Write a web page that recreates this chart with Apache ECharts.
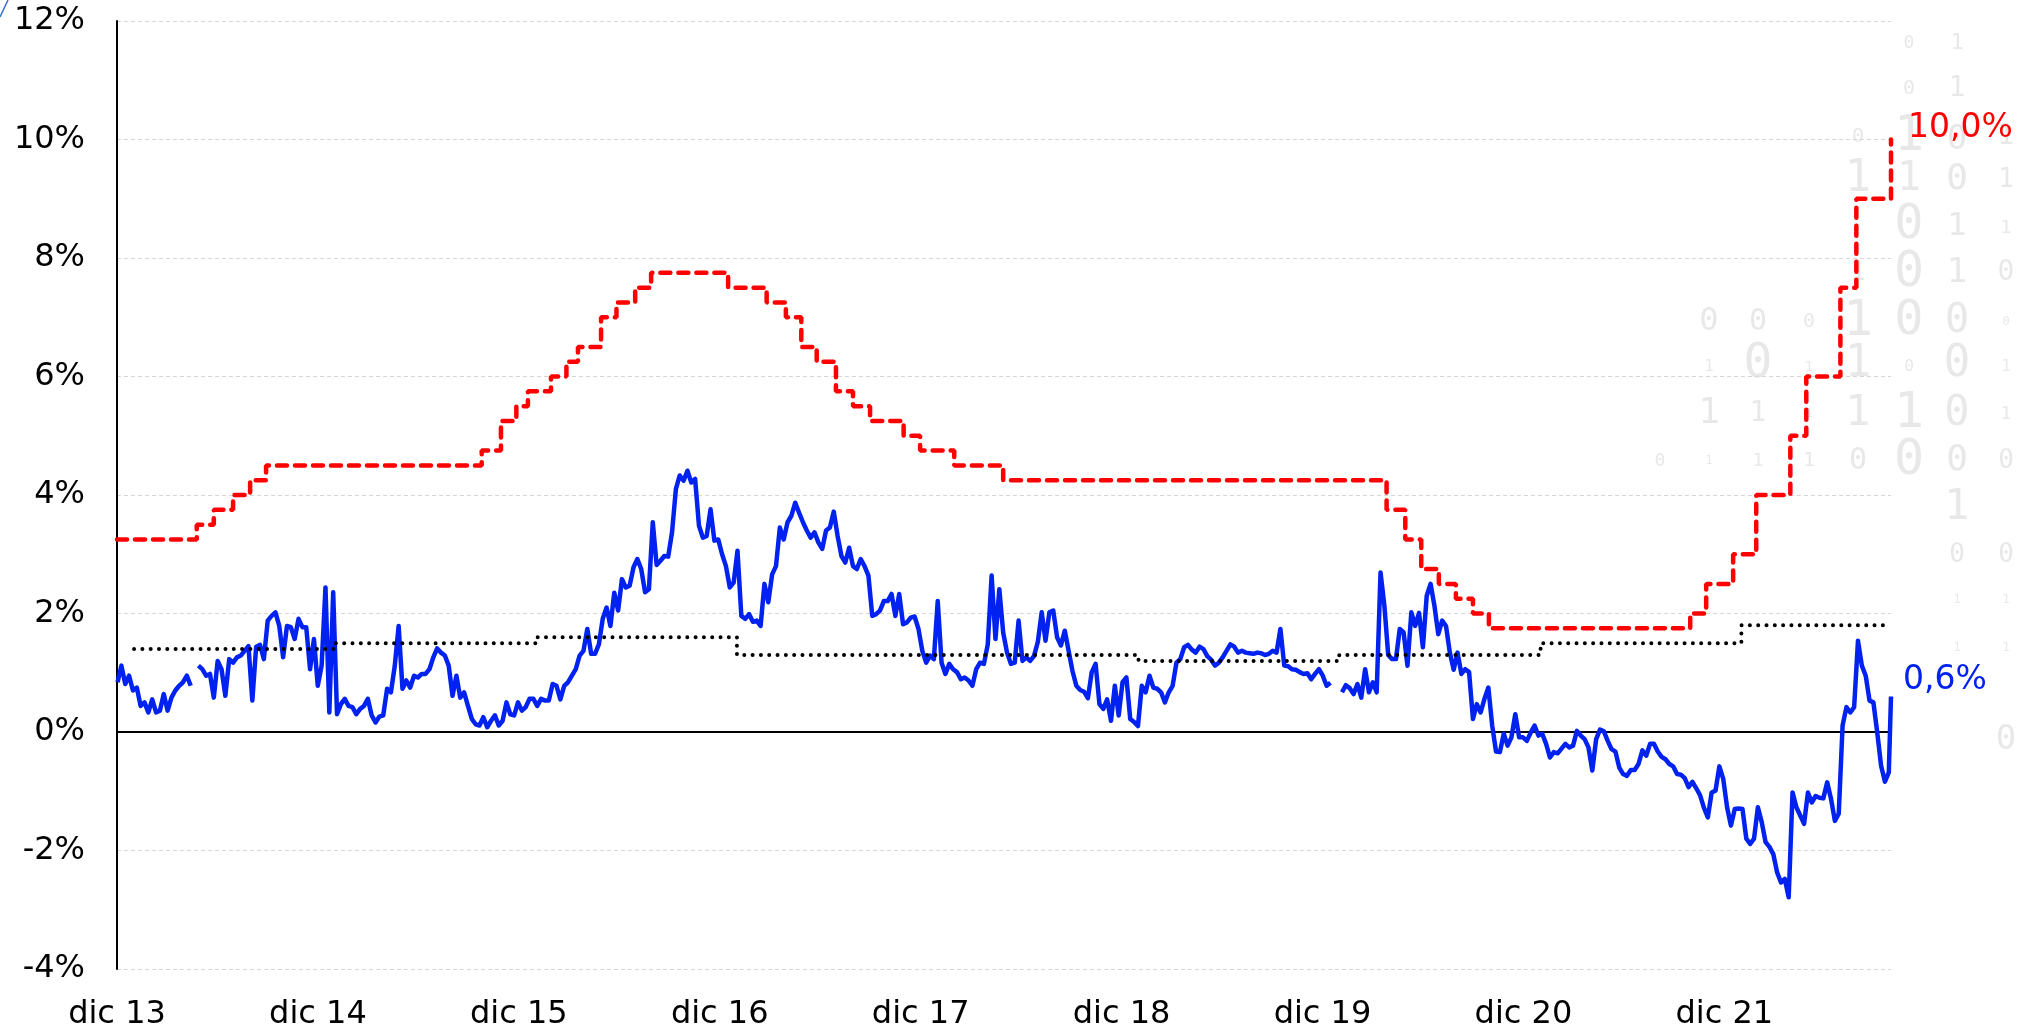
<!DOCTYPE html>
<html>
<head>
<meta charset="utf-8">
<script src="https://cdn.jsdelivr.net/npm/echarts@6/dist/echarts.min.js"></script>
<style>
  html, body { margin: 0; padding: 0; background: #ffffff; }
  #chart { width: 2042px; height: 1031px; }
</style>
</head>
<body>
<div id="chart"></div>
<script>
// X axis: months counted from 1 Dec 2013, one labelled tick per December
const xTickLabels = ['dic 13', 'dic 14', 'dic 15', 'dic 16', 'dic 17', 'dic 18', 'dic 19', 'dic 20', 'dic 21'];

// Policy rate (%), value in force from each date on
const policyDates = [
  '2013-12-01', '2014-04-25', '2014-05-26', '2014-06-30', '2014-07-31', '2014-08-29',
  '2015-09-25', '2015-10-30', '2015-11-27', '2015-12-18',
  '2016-01-29', '2016-02-26', '2016-03-18', '2016-04-29', '2016-05-27', '2016-06-30', '2016-07-29', '2016-12-16',
  '2017-02-24', '2017-03-31', '2017-04-28', '2017-05-26', '2017-06-30', '2017-07-31', '2017-08-31', '2017-10-31', '2017-11-30',
  '2018-01-31', '2018-04-30',
  '2020-03-27', '2020-04-30', '2020-05-29', '2020-06-30', '2020-07-31', '2020-08-31', '2020-09-29',
  '2021-09-30', '2021-10-29', '2021-12-17',
  '2022-01-28', '2022-03-31', '2022-04-29', '2022-06-30', '2022-07-29', '2022-09-30'
];
const policyRates = [
  3.25, 3.50, 3.75, 4.00, 4.25, 4.50,
  4.75, 5.25, 5.50, 5.75,
  6.00, 6.25, 6.50, 7.00, 7.25, 7.50, 7.75, 7.50,
  7.25, 7.00, 6.50, 6.25, 5.75, 5.50, 5.25, 5.00, 4.75,
  4.50, 4.25,
  3.75, 3.25, 2.75, 2.50, 2.25, 2.00, 1.75,
  2.00, 2.50, 3.00,
  4.00, 5.00, 6.00, 7.50, 9.00, 10.00
];

// Neutral real rate (%), one level per calendar year
const neutralDates = ['2014-01-01', '2015-01-01', '2016-01-01', '2017-01-01', '2018-01-01',
                      '2019-01-01', '2020-01-01', '2021-01-01', '2022-01-01', '2022-09-30'];
const neutralRates = [1.4, 1.5, 1.6, 1.3, 1.3, 1.2, 1.3, 1.5, 1.8, 1.8];

// Ex-ante real rate (%), weekly from the first Monday of December 2013; null = no quote
const realRateStart = '2013-12-02';
const realRateWeekly = [
  0.84, 1.12, 0.81, 0.95, 0.70, 0.75, 0.44, 0.50, 0.33, 0.55, 0.33, 0.36, 0.64, 0.36, 0.58, 0.70, 0.78, 0.84, 0.95, 0.78,
  null, 1.12, 1.06, 0.95, 0.98, 0.58, 1.20, 1.06, 0.61, 1.23, 1.17, 1.26, 1.29, 1.37, 1.45, 0.53, 1.44, 1.47, 1.23, 1.88, 1.96,
  2.02, 1.79, 1.26, 1.79, 1.77, 1.57, 1.91, 1.77, 1.77, 1.06, 1.57, 0.78, 1.12, 2.44, 0.33, 2.36, 0.30, 0.47, 0.56, 0.44,
  0.42, 0.30, 0.39, 0.44, 0.56, 0.28, 0.16, 0.26, 0.28, 0.73, 0.67, 1.12, 1.79, 0.73, 0.87, 0.75, 0.95, 0.92, 0.98, 0.98,
  1.06, 1.26, 1.41, 1.34, 1.29, 1.12, 0.61, 0.95, 0.58, 0.67, 0.44, 0.22, 0.13, 0.11, 0.25, 0.08, 0.19, 0.28, 0.11, 0.19,
  0.50, 0.30, 0.28, 0.50, 0.36, 0.42, 0.56, 0.56, 0.44, 0.56, 0.53, 0.53, 0.81, 0.78, 0.55, 0.78, 0.84,
  0.95, 1.06, 1.29, 1.37, 1.74, 1.32, 1.32, 1.48, 1.91, 2.10, 1.79, 2.35, 2.05, 2.58, 2.44, 2.47, 2.78, 2.92, 2.75, 2.36, 2.41, 3.54, 2.82,
  2.89, 2.97, 2.96, 3.37, 4.10, 4.33, 4.24, 4.41, 4.21, 4.27, 3.48, 3.28, 3.31, 3.76, 3.23, 3.25, 3.00, 2.80, 2.44, 2.52,
  3.06, 1.96, 1.91, 1.99, 1.86, 1.88, 1.79, 2.50, 2.19, 2.66, 2.80, 3.45, 3.25, 3.54, 3.65, 3.87, 3.70, 3.54, 3.40, 3.28,
  3.37, 3.20, 3.09, 3.40, 3.45, 3.72, 3.31, 2.97, 2.86, 3.11, 2.80, 2.75, 2.92, 2.80, 2.64, 1.96, 1.99, 2.05, 2.21, 2.21,
  2.33, 1.96, 2.33, 1.82, 1.85, 1.93, 1.95, 1.74, 1.37, 1.17, 1.29, 1.23, 2.21, 1.17, 0.98, 1.15, 1.06, 1.01, 0.89, 0.92,
  0.87, 0.78, 1.06, 1.17, 1.15, 1.48, 2.64, 1.57, 2.41, 1.68, 1.34,
  1.15, 1.17, 1.88, 1.20, 1.26, 1.20, 1.28, 1.52, 2.02, 1.54, 2.02, 2.05, 1.60, 1.46, 1.71, 1.37, 1.03, 0.78, 0.71,
  0.68, 0.57, 1.01, 1.15, 0.47, 0.39, 0.55, 0.19, 0.78, 0.28, 0.84, 0.92, 0.22, 0.17, 0.10, 0.78, 0.67, 0.95, 0.75, 0.73,
  0.67, 0.50, 0.67, 0.78, 1.17, 1.23, 1.43, 1.47, 1.39, 1.34, 1.44, 1.40, 1.28, 1.22, 1.12, 1.17, 1.26, 1.37, 1.48, 1.44,
  1.34, 1.37, 1.34, 1.33, 1.32, 1.34, 1.33, 1.30, 1.32, 1.37, 1.34, 1.74, 1.12, 1.11, 1.06, 1.05, 1.01, 0.98, 0.99, 0.89,
  0.98, 1.06, 0.95, 0.78, 0.83, null, null, 0.67, 0.79, 0.74, 0.64, 0.81, 0.58, 1.06, 0.67, 0.84, 0.67, 2.69, 2.13, 1.30,
  1.23, 1.23, 1.74, 1.68, 1.12, 2.02, 1.79, 2.01, 1.43, 2.30, 2.50, 2.13, 1.65, 1.88, 1.79, 1.34,
  1.05, 1.34, 0.98, 1.06, 1.01, 0.22, 0.47, 0.33, 0.56, 0.75, 0.11, -0.33, -0.34, -0.03, -0.23, -0.09, 0.30, -0.09, -0.09, -0.15,
  -0.01, 0.11, -0.06, -0.03, -0.20, -0.43, -0.34, -0.36, -0.28, -0.20, -0.26, -0.23, 0.02, -0.06, -0.12, -0.26, -0.65, -0.12, 0.04, 0.01,
  -0.15, -0.29, -0.33, -0.60, -0.71, -0.74, -0.64, -0.64, -0.54, -0.31, -0.40, -0.20, -0.20, -0.33, -0.42, -0.46, -0.54, -0.58, -0.71, -0.72,
  -0.78, -0.93, -0.84, -0.95, -1.07, -1.28, -1.44, -1.02, -0.99, -0.58, -0.79, -1.27, -1.58, -1.30, -1.29, -1.30, -1.80, -1.89, -1.80, -1.27,
  -1.52, -1.86, -1.94, -2.06, -2.37, -2.54, -2.48, -2.79, -1.02, -1.27, -1.41, -1.55, -1.02, -1.19, -1.08, -1.11, -1.12, -0.85, -1.13, -1.50,
  -1.38, 0.11, 0.42, 0.33, 0.42, 1.54, 1.12, 0.95, 0.53, 0.50, -0.01, -0.57, -0.84, -0.68
];
const realRateLatestDate = '2022-09-30';
const realRateLatest = 0.6;

// ---- helpers -------------------------------------------------------------
const DAY = 86400000;
const ORIGIN = Date.UTC(2013, 11, 1);
const MONTH_DAYS = 30.4375;

function parseDay(s) {
  const [y, m, d] = s.split('-').map(Number);
  return Date.UTC(y, m - 1, d);
}
function monthsFrom(ts) { return (ts - ORIGIN) / DAY / MONTH_DAYS; }
function pct(v) { return v.toFixed(1).replace('.', ',') + '%'; }

const policyData = policyDates.map((d, i) => [monthsFrom(parseDay(d)), policyRates[i]]);
const neutralData = neutralDates.map((d, i) => [monthsFrom(parseDay(d)), neutralRates[i]]);
const realStartTs = parseDay(realRateStart);
const realData = realRateWeekly.map((v, k) => [monthsFrom(realStartTs + k * 7 * DAY), v]);
realData.push([monthsFrom(parseDay(realRateLatestDate)), realRateLatest]);

const X_MAX = monthsFrom(parseDay('2022-09-30'));
const FONT = 'DejaVu Sans';

// Faint binary-digit backdrop in the upper right corner
const digitCols = [1660, 1709, 1758, 1809, 1858, 1909, 1957, 2006];
const digitBackdrop = [
  [5, 43, '0', 18], [6, 43, '1', 22],
  [5, 89, '0', 20], [6, 89, '1', 28],
  [4, 137, '0', 20], [5, 137, '1', 50], [6, 140, '0', 34], [7, 137, '1', 28],
  [4, 180, '1', 44], [5, 180, '1', 40], [6, 180, '0', 36], [7, 180, '1', 26],
  [5, 226, '0', 48], [6, 227, '1', 32], [7, 228, '1', 18],
  [4, 273, '1', 26], [5, 273, '0', 50], [6, 273, '1', 34], [7, 273, '0', 28],
  [1, 322, '0', 32], [2, 322, '0', 30], [3, 322, '0', 20], [4, 322, '1', 50], [5, 322, '0', 48], [6, 322, '0', 40], [7, 322, '0', 12],
  [1, 367, '1', 16], [2, 365, '0', 48], [3, 367, '1', 14], [4, 365, '1', 44], [5, 367, '0', 16], [6, 365, '0', 44], [7, 367, '1', 16],
  [1, 414, '1', 36], [2, 414, '1', 28], [3, 414, '1', 12], [4, 414, '1', 42], [5, 414, '1', 50], [6, 414, '0', 42], [7, 414, '1', 18],
  [0, 461, '0', 18], [1, 461, '1', 12], [2, 461, '1', 18], [3, 461, '1', 20], [4, 461, '0', 30], [5, 461, '0', 50], [6, 461, '0', 36], [7, 461, '0', 26],
  [6, 508, '1', 42],
  [6, 555, '0', 26], [7, 555, '0', 26],
  [6, 600, '1', 12], [7, 600, '1', 12],
  [6, 648, '1', 12], [7, 648, '1', 12],
  [7, 740, '0', 34]
];

const backdrop = digitBackdrop.map(([c, y, ch, size]) => ({
  type: 'text',
  silent: true,
  z: -10,
  style: {
    x: digitCols[c], y: y, text: ch,
    fill: '#e8e8e8',
    font: size + 'px "DejaVu Sans Mono"',
    align: 'center', verticalAlign: 'middle'
  }
}));

// small pen stroke in the top-left corner
backdrop.push({
  type: 'line', silent: true, z: -5,
  shape: { x1: 0, y1: 17, x2: 8, y2: 0 },
  style: { stroke: '#3a6fd0', lineWidth: 1.5 }
});

const chart = echarts.init(document.getElementById('chart'), null, { renderer: 'canvas' });

chart.setOption({
  animation: false,
  backgroundColor: '#ffffff',
  graphic: { elements: backdrop },
  grid: { left: 117, right: 151, top: 21, bottom: 61, containLabel: false },
  xAxis: [
    {
      type: 'value',
      min: 0, max: X_MAX, interval: 12,
      axisLine: { show: false, onZero: false },
      axisTick: { show: false },
      splitLine: { show: false },
      axisLabel: {
        margin: 30,
        color: '#000', fontFamily: FONT, fontSize: 32,
        formatter: v => { const i = Math.round(v / 12); return (Math.abs(v - i * 12) < 1e-6 && xTickLabels[i]) ? xTickLabels[i] : ''; }
      }
    },
    {
      // zero line across the plot
      type: 'value',
      min: 0, max: X_MAX,
      position: 'bottom',
      axisLine: { show: true, onZero: true, lineStyle: { color: '#000', width: 2 } },
      axisTick: { show: false },
      axisLabel: { show: false },
      splitLine: { show: false }
    }
  ],
  yAxis: {
    type: 'value',
    min: -4, max: 12, interval: 2,
    axisLine: { show: true, onZero: false, lineStyle: { color: '#000', width: 2 } },
    axisTick: { show: false },
    axisLabel: {
      margin: 32,
      color: '#000', fontFamily: FONT, fontSize: 32,
      formatter: v => v + '%'
    },
    splitLine: { show: true, lineStyle: { color: '#d6d6d6', width: 1, type: [4, 3] } }
  },
  series: [
    {
      name: 'Tasa real',
      type: 'line',
      z: 3,
      data: realData,
      showSymbol: false,
      connectNulls: false,
      lineStyle: { color: '#0022f0', width: 4.5, join: 'round' },
      endLabel: {
        show: true,
        formatter: p => pct(p.value[1]),
        color: '#0022f0', fontFamily: FONT, fontSize: 33,
        offset: [4, -16]
      }
    },
    {
      name: 'Tasa neutral',
      type: 'line',
      z: 4,
      step: 'end',
      data: neutralData,
      showSymbol: false,
      lineStyle: { color: '#000', width: 4, type: [0.01, 8.3], cap: 'round' }
    },
    {
      name: 'Tasa de política',
      type: 'line',
      z: 5,
      step: 'end',
      data: policyData,
      showSymbol: false,
      lineStyle: { color: '#ff0000', width: 4.5, type: [10, 8], cap: 'round' },
      endLabel: {
        show: true,
        formatter: p => pct(p.value[1]),
        color: '#ff0000', fontFamily: FONT, fontSize: 33,
        offset: [9, -11]
      }
    }
  ]
});
</script>
</body>
</html>
